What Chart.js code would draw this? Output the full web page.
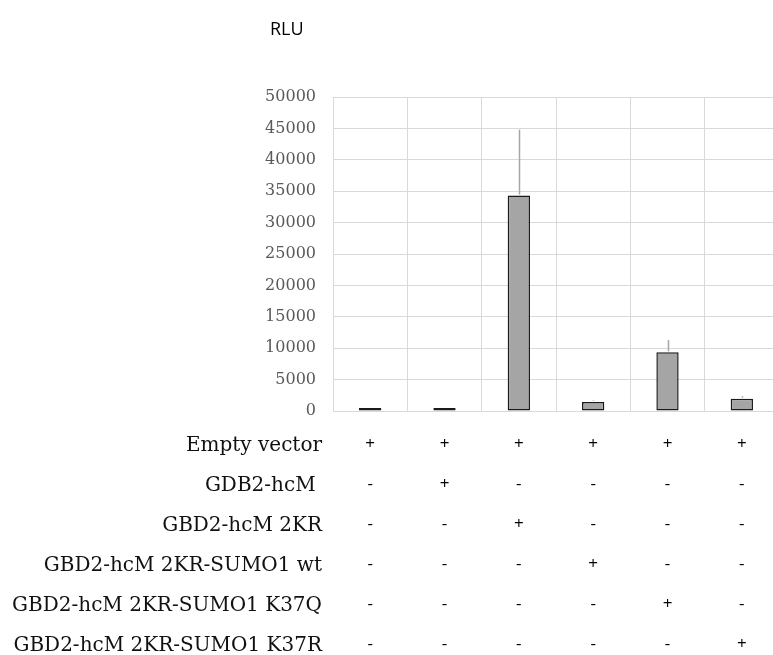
<!DOCTYPE html>
<html>
<head>
<meta charset="utf-8">
<title>RLU</title>
<script src="https://cdn.jsdelivr.net/npm/chart.js@4.4.1/dist/chart.umd.min.js"></script>
<style>
    html, body { margin: 0; padding: 0; background: #fff; overflow: hidden; }
    #wrap { position: relative; width: 773px; height: 655px; overflow: hidden; }
    #rluChart { position: absolute; left: 0; top: 0; }
    #unit {
        position: absolute; left: 270px; top: 19px;
        font: 18px "Open Sans", sans-serif; line-height: 18px; color: #000;
    }
    #rows {
        position: absolute; left: 0; top: 424px; width: 322px;
        text-align: right; white-space: pre;
        font: 20px "DejaVu Serif", serif; line-height: 40px; color: #111;
    }
</style>
</head>
<body>
<div id="wrap">
    <canvas id="rluChart" width="780" height="680"></canvas>
    <div id="unit">RLU</div>
    <div id="rows"></div>
</div>
<script>
// construct names down the left, one +/- row each
const rowLabels = [
    'Empty vector',
    'GDB2-hcM ',
    'GBD2-hcM 2KR',
    'GBD2-hcM 2KR-SUMO1 wt',
    'GBD2-hcM 2KR-SUMO1 K37Q',
    'GBD2-hcM 2KR-SUMO1 K37R',
];
const signRows = [
    ['+', '+', '+', '+', '+', '+'],
    ['-', '+', '-', '-', '-', '-'],
    ['-', '-', '+', '-', '-', '-'],
    ['-', '-', '-', '+', '-', '-'],
    ['-', '-', '-', '-', '+', '-'],
    ['-', '-', '-', '-', '-', '+'],
];
const rluMeans = [250, 230, 34300, 1450, 9350, 1950];
const rluErrors = [0, 0, 10500, 250, 1950, 400];
const yMax = 50000;
const yStep = 5000;

// each bar's x label is its column of +/- signs
const columnLabels = signRows[0].map((_, col) => signRows.map(row => row[col]));

document.getElementById('rows').textContent = rowLabels.join('\n');

// upper error whiskers, no caps
const errorBars = {
    id: 'errorBars',
    afterDatasetsDraw(chart) {
        const ctx = chart.ctx;
        const meta = chart.getDatasetMeta(0);
        const y = chart.scales.y;
        ctx.save();
        ctx.strokeStyle = '#a6a6a6';
        ctx.lineWidth = 1.5;
        meta.data.forEach((bar, i) => {
            if (!rluErrors[i]) return;
            const x = Math.round(bar.x) + 0.5;
            ctx.beginPath();
            ctx.moveTo(x, y.getPixelForValue(rluMeans[i]) - 1);
            ctx.lineTo(x, y.getPixelForValue(rluMeans[i] + rluErrors[i]));
            ctx.stroke();
        });
        ctx.restore();
    }
};

new Chart(document.getElementById('rluChart').getContext('2d'), {
    type: 'bar',
    data: {
        labels: columnLabels,
        datasets: [{
            data: rluMeans,
            backgroundColor: '#a5a5a5',
            borderColor: '#1a1a1a',
            borderWidth: 1.5,
            borderSkipped: false,
            minBarLength: 3,
            barPercentage: 0.3,
            categoryPercentage: 1,
        }]
    },
    options: {
        responsive: false,
        animation: false,
        layout: { padding: { top: 97, right: 1, left: 0, bottom: 0 } },
        plugins: {
            legend: { display: false },
            tooltip: { enabled: false },
        },
        scales: {
            x: {
                grid: { color: '#d9d9d9', drawTicks: false },
                border: { color: '#d9d9d9' },
                ticks: {
                    color: '#000',
                    padding: 13,
                    maxRotation: 0,
                    autoSkip: false,
                    font: { family: '"Open Sans", sans-serif', size: 17, lineHeight: '40px' },
                },
                afterFit: scale => { scale.height = 269; },
            },
            y: {
                min: 0,
                max: yMax,
                grid: { color: '#d9d9d9', drawTicks: false },
                border: { color: '#d9d9d9' },
                ticks: {
                    stepSize: yStep,
                    color: '#595959',
                    padding: 17,
                    font: { family: '"DejaVu Serif", serif', size: 16 },
                    callback: value => String(value),
                },
                afterFit: scale => { scale.width = 333; },
            }
        }
    },
    plugins: [errorBars]
});
</script>
</body>
</html>
